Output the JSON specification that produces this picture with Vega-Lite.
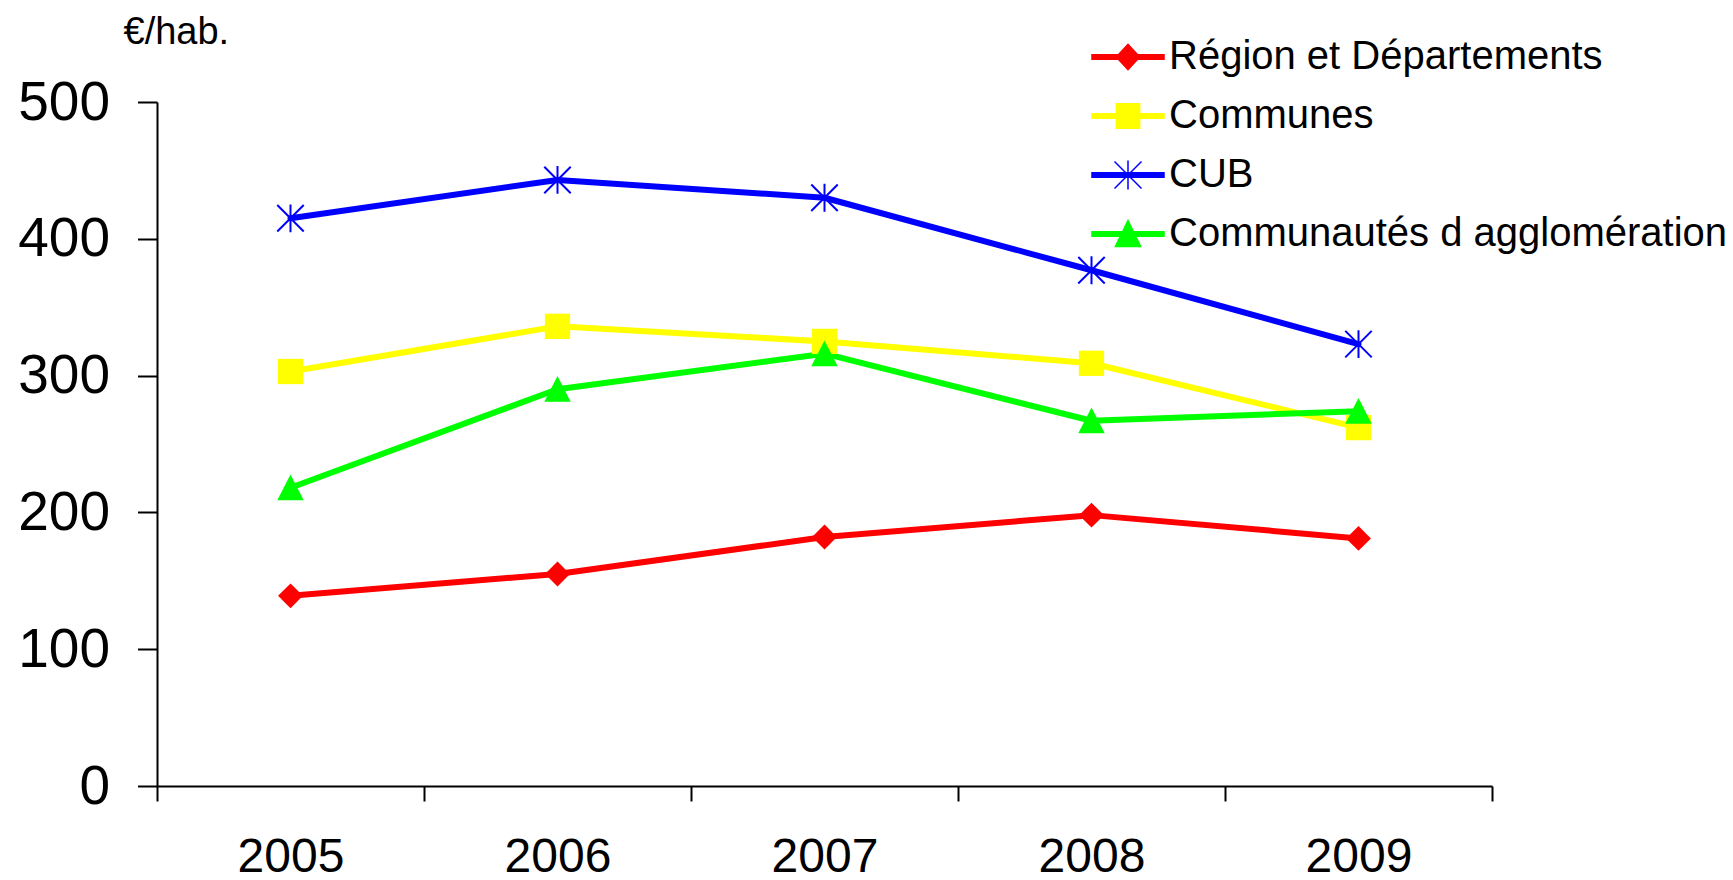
{
  "$schema": "https://vega.github.io/schema/vega-lite/v6.json",
  "width": 1335,
  "height": 684,
  "autosize": {"type": "none"},
  "padding": {"left": 157, "top": 102, "right": 241, "bottom": 94},
  "background": "white",
  "config": {
    "font": "Liberation Sans",
    "view": {"stroke": null},
    "axis": {"domainColor": "black", "tickColor": "black", "labelColor": "black", "titleColor": "black", "domainWidth": 2, "tickWidth": 2, "grid": false}
  },
  "data": {
    "values": [
      {"year": "2005", "series": "Région et Départements", "value": 139},
      {"year": "2006", "series": "Région et Départements", "value": 155},
      {"year": "2007", "series": "Région et Départements", "value": 182},
      {"year": "2008", "series": "Région et Départements", "value": 198},
      {"year": "2009", "series": "Région et Départements", "value": 181},
      {"year": "2005", "series": "Communes", "value": 303},
      {"year": "2006", "series": "Communes", "value": 336},
      {"year": "2007", "series": "Communes", "value": 325},
      {"year": "2008", "series": "Communes", "value": 309},
      {"year": "2009", "series": "Communes", "value": 262},
      {"year": "2005", "series": "CUB", "value": 415},
      {"year": "2006", "series": "CUB", "value": 443},
      {"year": "2007", "series": "CUB", "value": 430},
      {"year": "2008", "series": "CUB", "value": 377},
      {"year": "2009", "series": "CUB", "value": 323},
      {"year": "2005", "series": "Communautés d agglomération", "value": 218},
      {"year": "2006", "series": "Communautés d agglomération", "value": 290},
      {"year": "2007", "series": "Communautés d agglomération", "value": 316},
      {"year": "2008", "series": "Communautés d agglomération", "value": 267},
      {"year": "2009", "series": "Communautés d agglomération", "value": 274}
    ]
  },
  "encoding": {
    "x": {
      "field": "year", "type": "nominal", "sort": null,
      "scale": {"type": "band", "paddingInner": 0, "paddingOuter": 0},
      "axis": {"title": null, "labelAngle": 0, "labelFontSize": 48, "labelBaseline": "alphabetic", "tickSize": 15, "labelPadding": 70, "tickBand": "extent"}
    },
    "y": {
      "field": "value", "type": "quantitative",
      "scale": {"domain": [0, 500], "nice": false},
      "axis": {"values": [0, 100, 200, 300, 400, 500], "labelFontSize": 55, "tickSize": 19.5, "labelPadding": 28, "title": "€/hab.", "titleAngle": 0, "titleAlign": "left", "titleBaseline": "alphabetic", "titleX": -34, "titleY": -59, "titleFontSize": 38, "titleFontWeight": "normal"}
    },
    "color": {
      "field": "series", "type": "nominal",
      "scale": {"domain": ["Région et Départements", "Communes", "CUB", "Communautés d agglomération"], "range": ["#FF0000", "#FFFF00", "#0000FF", "#00FF00"]},
      "legend": {
        "orient": "none", "legendX": 951, "legendY": -65, "title": null, "padding": 0,
        "symbolSize": 1296, "labelFontSize": 40, "labelOffset": 21, "rowPadding": 19, "labelColor": "black", "labelLimit": 0,
        "encode": {
          "symbols": {
            "update": {
              "shape": {"signal": "datum.value === 'CUB' ? 'M-2,-0.13L2,-0.13L2,0.13L-2,0.13Z M-0.75,-0.75L0.75,0.75 M-0.75,0.75L0.75,-0.75 M0,-0.8L0,0.8' : datum.value === 'Communes' ? 'M-2,-0.13L2,-0.13L2,0.13L-2,0.13Z M-0.65,-0.68L0.65,-0.68L0.65,0.68L-0.65,0.68Z' : datum.value === 'Communautés d agglomération' ? 'M-2,-0.13L2,-0.13L2,0.13L-2,0.13Z M0,-0.75L0.7,0.7L-0.7,0.7Z' : 'M-2,-0.13L2,-0.13L2,0.13L-2,0.13Z M-0.65,0L0,-0.7L0.65,0L0,0.7Z'"},
              "fill": {"signal": "scale('color', datum.value)"},
              "stroke": {"signal": "scale('color', datum.value)"},
              "strokeWidth": {"value": 1.5},
              "opacity": {"value": 1},
              "size": {"value": 1296}
            }
          }
        }
      }
    }
  },
  "layer": [
    {
      "mark": {"type": "line", "strokeWidth": 6, "strokeCap": "round", "strokeJoin": "round"}
    },
    {
      "transform": [{"filter": "datum.series === 'Région et Départements'"}],
      "mark": {"type": "point", "shape": "diamond", "filled": true, "size": 620, "strokeWidth": 0, "opacity": 1}
    },
    {
      "transform": [{"filter": "datum.series === 'Communes'"}],
      "mark": {"type": "point", "shape": "square", "filled": true, "size": 640, "strokeWidth": 0, "opacity": 1}
    },
    {
      "transform": [{"filter": "datum.series === 'CUB'"}],
      "mark": {"type": "point", "shape": "M-1,-1L1,1M-1,1L1,-1M0,-1.05L0,1.05", "filled": false, "size": 700, "strokeWidth": 2, "opacity": 1}
    },
    {
      "transform": [{"filter": "datum.series === 'Communautés d agglomération'"}],
      "mark": {"type": "point", "shape": "M0,-1L1,0.95L-1,0.95Z", "filled": true, "size": 700, "strokeWidth": 0, "opacity": 1}
    }
  ]
}
